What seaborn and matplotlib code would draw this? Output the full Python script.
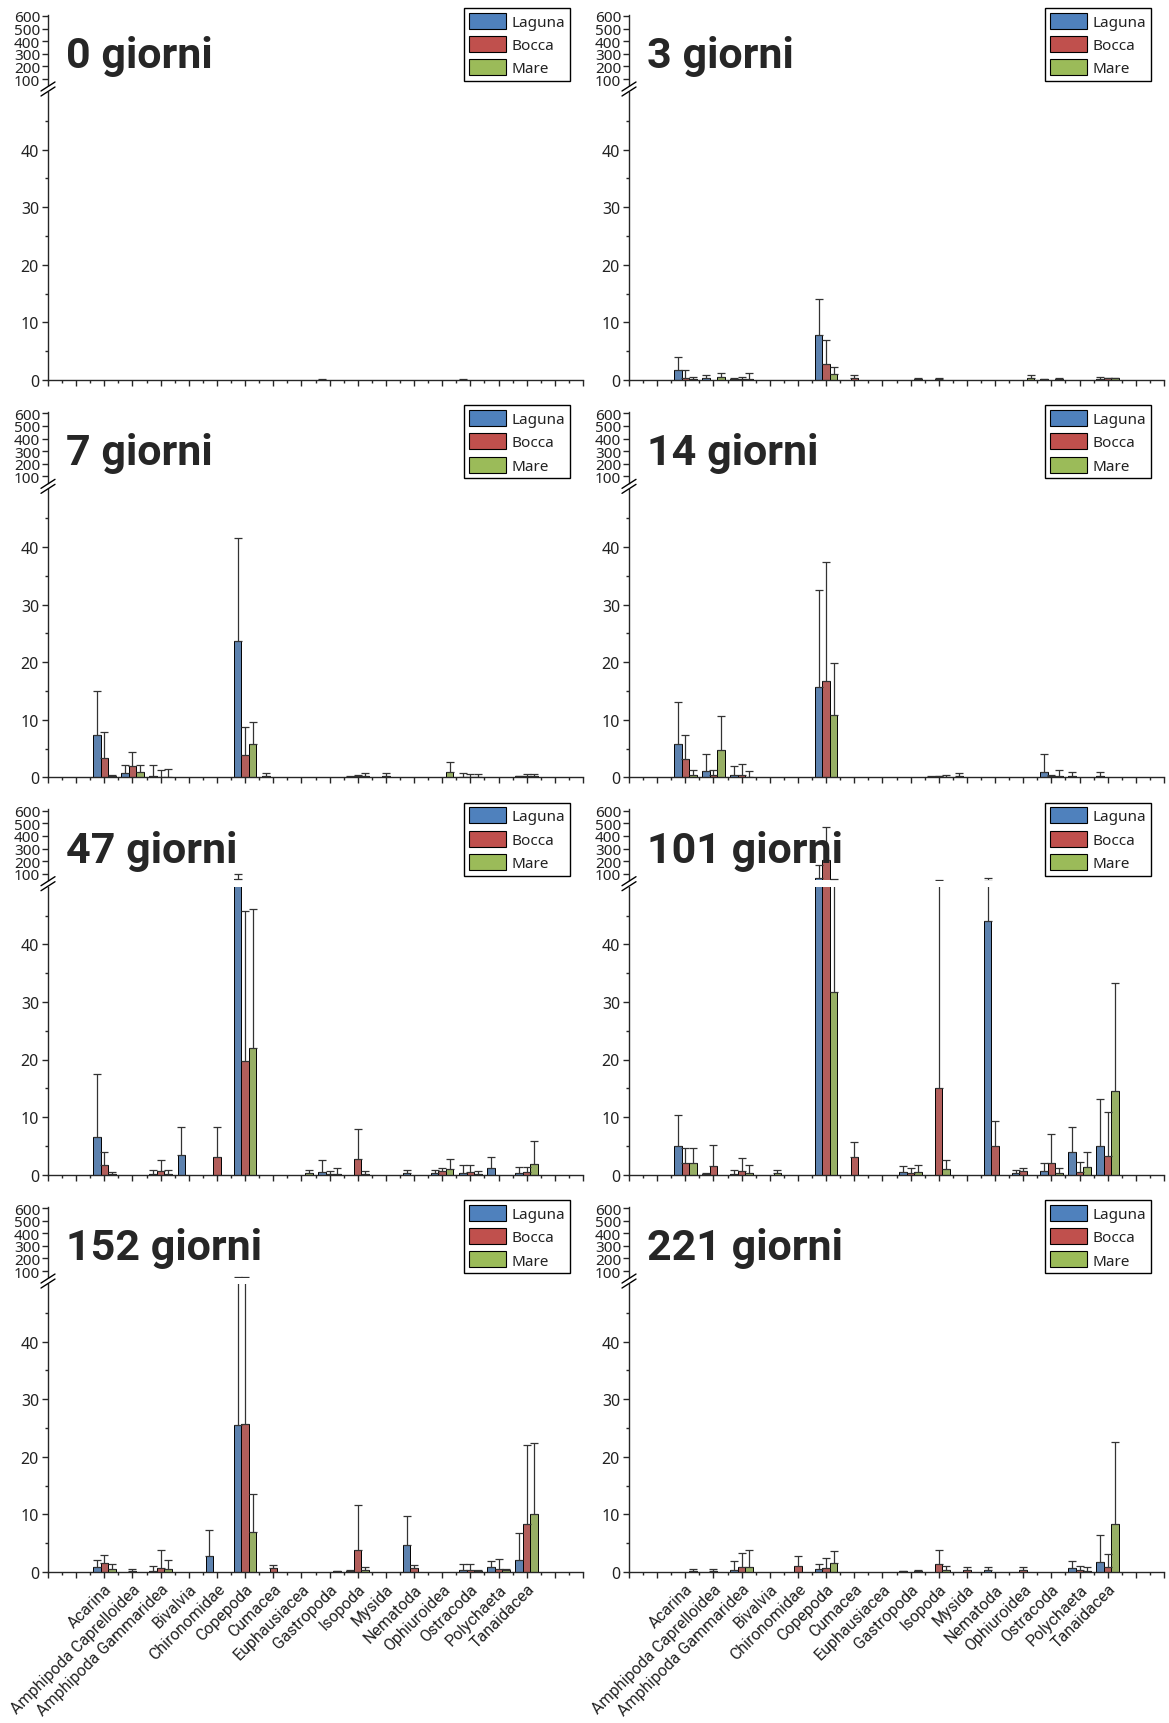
import numpy as np
import pandas as pd
import matplotlib
matplotlib.use('Agg')
import matplotlib.pyplot as plt
from matplotlib.lines import Line2D
from matplotlib.patches import Patch
from matplotlib.container import BarContainer
import seaborn as sns

# --- Data ---
categories = ['Acarina', 'Amphipoda Caprelloidea', 'Amphipoda Gammaridea', 'Bivalvia',
              'Chironomidae', 'Copepoda', 'Cumacea', 'Euphausiacea', 'Gastropoda',
              'Isopoda', 'Mysida', 'Nematoda', 'Ophiuroidea', 'Ostracoda',
              'Polychaeta', 'Tanaidacea']
sites = ['Laguna', 'Bocca', 'Mare']
colors = ['#4F81BD', '#C0504D', '#9BBB59']
days = [0, 3, 7, 14, 47, 101, 152, 221]

# each: [Laguna, Bocca, Mare], 16 values in category order
mean_0 = [[0, 0, 0, 0, 0, 0, 0, 0, 0.05, 0, 0, 0, 0, 0.05, 0, 0],
          [0] * 16,
          [0] * 16]
sd_0 = [[0, 0, 0, 0, 0, 0, 0, 0, 0.1, 0, 0, 0, 0, 0.1, 0, 0],
        [0] * 16,
        [0] * 16]

mean_3 = [[1.7, 0.3, 0.2, 0, 0, 7.8, 0, 0, 0, 0, 0, 0, 0, 0.1, 0, 0.2],
          [0.4, 0, 0.1, 0, 0, 2.7, 0.3, 0, 0, 0.1, 0, 0, 0, 0, 0, 0.3],
          [0.2, 0.5, 0.1, 0, 0, 1.0, 0, 0, 0.1, 0, 0, 0, 0.3, 0.1, 0, 0.3]]
sd_3 = [[2.3, 0.5, 0.1, 0, 0, 6.3, 0, 0, 0, 0, 0, 0, 0, 0.1, 0, 0.4],
        [1.3, 0, 0.5, 0, 0, 4.3, 0.5, 0, 0, 0.2, 0, 0, 0, 0, 0, 0.1],
        [0.3, 0.8, 1.1, 0, 0, 1.2, 0, 0, 0.3, 0, 0, 0, 0.5, 0.3, 0, 0.1]]

mean_7 = [[7.3, 0.8, 0.3, 0, 0, 23.6, 0.3, 0, 0, 0.1, 0, 0, 0, 0.1, 0, 0.2],
          [3.4, 2.0, 0.1, 0, 0, 3.8, 0, 0, 0, 0.2, 0.3, 0, 0, 0.1, 0, 0.2],
          [0.2, 0.9, 0.1, 0, 0, 5.8, 0, 0, 0, 0.2, 0, 0, 1.0, 0.1, 0, 0.2]]
sd_7 = [[7.7, 1.3, 1.8, 0, 0, 17.9, 0.5, 0, 0, 0.1, 0, 0, 0, 0.7, 0, 0.1],
        [4.5, 2.4, 1.2, 0, 0, 5.0, 0, 0, 0, 0.2, 0.5, 0, 0, 0.4, 0, 0.3],
        [0.2, 1.2, 1.4, 0, 0, 3.8, 0, 0, 0, 0.5, 0, 0, 1.7, 0.4, 0, 0.3]]

mean_14 = [[5.8, 1.1, 0.4, 0, 0, 15.6, 0, 0, 0, 0.1, 0.3, 0, 0, 1.0, 0.3, 0.3],
           [3.1, 0.4, 0.4, 0, 0, 16.7, 0, 0, 0, 0.2, 0, 0, 0, 0.2, 0, 0],
           [0.4, 4.7, 0.05, 0, 0, 10.9, 0, 0, 0, 0.1, 0, 0, 0, 0.3, 0, 0]]
sd_14 = [[7.2, 2.9, 1.6, 0, 0, 17.0, 0, 0, 0, 0.1, 0.5, 0, 0, 3.0, 0.6, 0.6],
         [4.3, 0.9, 1.9, 0, 0, 20.7, 0, 0, 0, 0.1, 0, 0, 0, 0.2, 0, 0],
         [0.9, 5.9, 1.0, 0, 0, 8.9, 0, 0, 0, 0.3, 0, 0, 0, 0.9, 0, 0]]

mean_47 = [[6.5, 0, 0.2, 3.4, 0, 55.0, 0, 0, 0.5, 0, 0, 0.3, 0.3, 0.3, 1.1, 0.3],
           [1.7, 0, 0.6, 0, 3.0, 19.8, 0, 0, 0.2, 2.7, 0, 0, 0.6, 0.5, 0, 0.5],
           [0.2, 0, 0.2, 0, 0, 22.0, 0, 0.3, 0.2, 0.2, 0, 0, 1.0, 0.2, 0, 1.9]]
sd_47 = [[11.0, 0, 0.7, 4.9, 0, 42.0, 0, 0, 2.0, 0, 0, 0.6, 0.6, 1.3, 2.0, 1.0],
         [2.3, 0, 1.9, 0, 5.2, 25.9, 0, 0, 0.4, 5.3, 0, 0, 0.6, 1.2, 0, 0.9],
         [0.3, 0, 0.7, 0, 0, 24.2, 0, 0.6, 0.9, 0.5, 0, 0, 1.8, 0.4, 0, 4.0]]

mean_101 = [[5.0, 0.1, 0.1, 0, 0, 64.0, 0, 0, 0.5, 0, 0, 44.0, 0.3, 0.6, 4.0, 5.0],
            [2.0, 1.5, 0.6, 0, 0, 210.0, 3.0, 0, 0.3, 15.1, 0, 5.0, 0.6, 2.0, 0.5, 3.2],
            [2.0, 0, 0.3, 0.3, 0, 31.8, 0, 0, 0.5, 1.0, 0, 0, 0, 0.3, 1.3, 14.6]]
sd_101 = [[5.3, 0.2, 0.8, 0, 0, 103.0, 0, 0, 1.0, 0, 0, 18.0, 0.5, 1.5, 4.3, 8.2],
          [2.7, 3.7, 2.3, 0, 0, 257.0, 2.7, 0, 0.8, 36.0, 0, 4.4, 0.5, 5.0, 1.7, 7.6],
          [2.7, 0, 1.4, 0.5, 0, 28.0, 0, 0, 1.2, 1.5, 0, 0, 0, 0.9, 2.7, 18.7]]

mean_152 = [[0.9, 0, 0.2, 0, 2.7, 25.5, 0, 0, 0, 0.2, 0, 4.7, 0, 0.4, 0.9, 2.1],
            [1.5, 0.1, 0.7, 0, 0, 25.7, 0.7, 0, 0, 3.8, 0, 0.7, 0, 0.4, 0.5, 8.3],
            [0.5, 0, 0.5, 0, 0, 6.9, 0, 0, 0.1, 0.3, 0, 0, 0, 0.2, 0.3, 10.1]]
sd_152 = [[1.2, 0, 0.9, 0, 4.6, 27.5, 0, 0, 0, 0.1, 0, 5.0, 0, 1.0, 1.0, 4.6],
          [1.5, 0.4, 3.1, 0, 0, 27.3, 0.5, 0, 0, 7.9, 0, 0.5, 0, 1.0, 1.7, 13.8],
          [0.9, 0, 1.6, 0, 0, 6.6, 0, 0, 0.1, 0.6, 0, 0, 0, 0.1, 0.3, 12.3]]

mean_221 = [[0, 0, 0.3, 0, 0, 0.5, 0, 0, 0.1, 0, 0, 0.3, 0, 0, 0.7, 1.7],
            [0, 0.1, 0.8, 0, 1.0, 0.7, 0, 0, 0, 1.4, 0.3, 0, 0.3, 0, 0.4, 0.8],
            [0.1, 0, 0.8, 0, 0, 1.5, 0, 0, 0.1, 0.3, 0, 0, 0, 0, 0.2, 8.4]]
sd_221 = [[0, 0, 1.6, 0, 0, 0.9, 0, 0, 0.1, 0, 0, 0.5, 0, 0, 1.3, 4.7],
          [0, 0.4, 2.5, 0, 1.8, 1.7, 0, 0, 0, 2.4, 0.5, 0, 0.5, 0, 0.6, 2.3],
          [0.4, 0, 3.1, 0, 0, 2.1, 0, 0, 0.2, 0.8, 0, 0, 0, 0, 0.7, 14.2]]

means = {0: mean_0, 3: mean_3, 7: mean_7, 14: mean_14,
         47: mean_47, 101: mean_101, 152: mean_152, 221: mean_221}
sds = {0: sd_0, 3: sd_3, 7: sd_7, 14: sd_14,
       47: sd_47, 101: sd_101, 152: sd_152, 221: sd_221}

# --- Figure setup ---
W, H = 1169, 1724
sns.set_style('ticks')
plt.rcParams['font.family'] = ['Noto Sans', 'DejaVu Sans']
plt.rcParams['axes.linewidth'] = 1.0
fig = plt.figure(figsize=(W / 100, H / 100), dpi=100)

def px_box(x0, y_top, w, h):
    return [x0 / W, 1 - (y_top + h) / H, w / W, h / H]

bar_w = 0.8 / 3
UP_LO, UP_HI = 50, 610

def draw_bars(ax, day, y_min=0):
    df = pd.DataFrame({'Taxon': np.tile(categories, 3),
                       'Site': np.repeat(sites, len(categories)),
                       'Mean': np.concatenate(means[day])})
    sns.barplot(data=df, x='Taxon', y='Mean', hue='Site', order=categories,
                hue_order=sites, palette=colors, errorbar=None, width=0.8,
                edgecolor='black', linewidth=0.7, legend=False, ax=ax)
    err = np.array(sds[day])
    bars = [c for c in ax.containers if isinstance(c, BarContainer)]
    for cont in bars:
        for p in cont.patches:
            xc = p.get_x() + p.get_width() / 2
            ci = int(round(xc))
            hi = int(round((xc - ci) / bar_w)) + 1
            s = err[hi, ci]
            h = p.get_height()
            # skip error bars that would lie wholly below this segment
            if s > 0 and h + s >= y_min:
                ax.errorbar(xc, h, yerr=[[0], [s]], fmt='none',
                            ecolor='0.2', elinewidth=0.9, capsize=2.7, capthick=0.9)
    ax.set_xlabel('')
    ax.set_ylabel('')
    ax.set_xlim(-2, 17)

col_x = [48, 629]
ax_w = 535
for i, day in enumerate(days):
    row, col = divmod(i, 2)
    base = 381 + 397.35 * row
    xl = col_x[col]

    # lower segment 0-50
    ax = fig.add_axes(px_box(xl, base - 288, ax_w, 288))
    draw_bars(ax, day)
    ax.set_ylim(0, 50)
    ax.set_yticks([0, 10, 20, 30, 40])
    ax.set_yticks([5, 15, 25, 35, 45], minor=True)
    ax.set_xticks(np.arange(-2, 18))
    ax.set_xticks(np.arange(-1.5, 17, 1), minor=True)
    if row == 3:
        ax.set_xticklabels(['', ''] + categories + ['', ''], rotation=45, ha='right',
                           rotation_mode='anchor', fontsize=10, color='#222222',
                           family=['Roboto', 'DejaVu Sans'])
    else:
        ax.set_xticklabels([''] * 20)
    ax.tick_params(axis='both', which='major', length=4.5, width=1.0, labelsize=11.5,
                   labelcolor='#222222')
    ax.tick_params(axis='both', which='minor', length=2.5, width=1.0)
    ax.tick_params(axis='y', pad=2)
    ax.tick_params(axis='x', pad=2)
    sns.despine(ax=ax)

    # upper segment 50-610
    up_h = (UP_HI - UP_LO) * 0.126
    axu = fig.add_axes(px_box(xl, base - 294.7 - up_h, ax_w, up_h))
    draw_bars(axu, day, y_min=UP_LO)
    axu.set_ylim(UP_LO, UP_HI)
    axu.set_yticks([100, 200, 300, 400, 500, 600])
    axu.set_xticks([])
    axu.tick_params(axis='y', which='major', length=4, width=1.0, labelsize=11,
                    pad=1.5, labelcolor='#222222')
    sns.despine(ax=axu, bottom=True)

    # axis break marks
    yc = base - 291
    for off in (-2.5, 2.5):
        fig.add_artist(Line2D([(xl - 7) / W, (xl + 7) / W],
                              [1 - (yc + off + 4.5) / H, 1 - (yc + off - 4.5) / H],
                              transform=fig.transFigure, color='black', lw=1.0))

    # panel title
    fig.text((xl + 18) / W, 1 - (base - 313) / H, f'{day} giorni', fontsize=31,
             fontweight='bold', family=['Roboto', 'DejaVu Sans'],
             va='baseline', ha='left')

    # legend
    handles = [Patch(facecolor=c, edgecolor='black', linewidth=0.8, label=s)
               for c, s in zip(colors, sites)]
    leg = axu.legend(handles=handles, loc='upper right',
                     bbox_to_anchor=((xl + 522) / W, 1 - (base - 372) / H),
                     bbox_transform=fig.transFigure, frameon=True, fancybox=False,
                     edgecolor='black', framealpha=1, fontsize=11, handlelength=2.4,
                     handleheight=1.25, labelspacing=0.4, borderpad=0.3,
                     handletextpad=0.4, borderaxespad=0)
    leg.get_frame().set_linewidth(1.0)
    for t in leg.get_texts():
        t.set_color('#222222')

fig.savefig('out.png', dpi=100)
